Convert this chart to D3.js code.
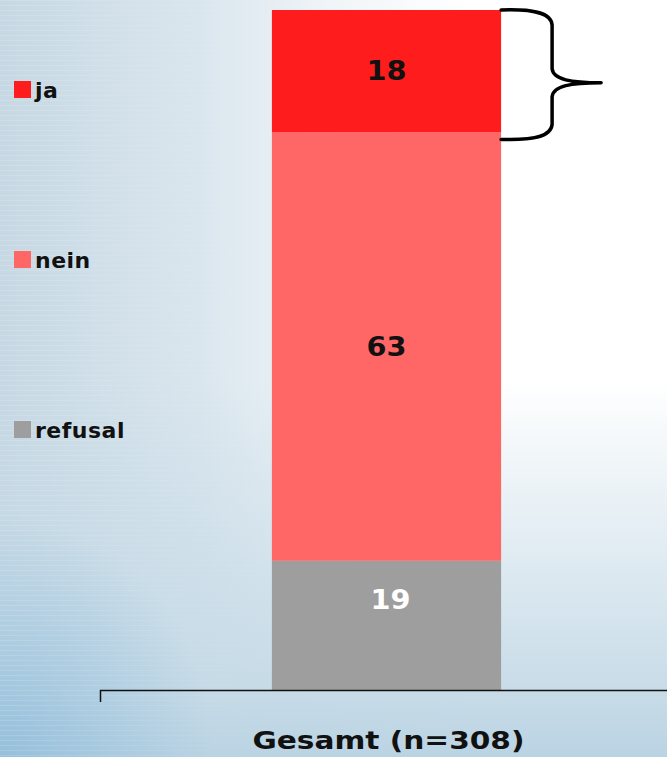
<!DOCTYPE html>
<html>
<head>
<meta charset="utf-8">
<script src="https://cdn.jsdelivr.net/npm/d3@7"></script>
<style>
  body { margin: 0; overflow: hidden; }
  text { font-family: "DejaVu Sans", Verdana, sans-serif; font-weight: bold; }
</style>
</head>
<body>
<div id="chart"></div>
<script>
var categories = ["Gesamt (n=308)"];
var seriesNames = ["ja", "nein", "refusal"];
var seriesValues = [18, 63, 19];
var seriesColors = ["#ff1c1c", "#ff6666", "#9e9e9e"];
var labelColors = ["#111", "#111", "#fff"];

var width = 667, height = 757;

var svg = d3.select("#chart").append("svg")
    .attr("width", width)
    .attr("height", height);

var defs = svg.append("defs");

// background gradients
var gh = defs.append("linearGradient").attr("id", "bgH")
    .attr("x1", 0).attr("x2", 1).attr("y1", 0).attr("y2", 0);
gh.append("stop").attr("offset", "0").attr("stop-color", "#c6d8e3");
gh.append("stop").attr("offset", "0.3").attr("stop-color", "#dae6ee");
gh.append("stop").attr("offset", "0.5").attr("stop-color", "#f0f5f8");
gh.append("stop").attr("offset", "0.7").attr("stop-color", "#ffffff");
gh.append("stop").attr("offset", "1").attr("stop-color", "#ffffff");

var gv = defs.append("linearGradient").attr("id", "bgV")
    .attr("x1", 0).attr("x2", 0).attr("y1", 0).attr("y2", 1);
gv.append("stop").attr("offset", "0.5").attr("stop-color", "#c4d9e6").attr("stop-opacity", 0);
gv.append("stop").attr("offset", "0.92").attr("stop-color", "#c4d9e6").attr("stop-opacity", 0.95);
gv.append("stop").attr("offset", "1").attr("stop-color", "#bad3e3").attr("stop-opacity", 1);

var gr = defs.append("radialGradient").attr("id", "bgR")
    .attr("cx", 0).attr("cy", 1).attr("r", 0.32);
gr.append("stop").attr("offset", "0").attr("stop-color", "#8dbbda").attr("stop-opacity", 0.8);
gr.append("stop").attr("offset", "1").attr("stop-color", "#8dbbda").attr("stop-opacity", 0);

// faint horizontal streaks on the left
var pat = defs.append("pattern").attr("id", "streaks")
    .attr("width", 8).attr("height", 5).attr("patternUnits", "userSpaceOnUse");
pat.append("rect").attr("width", 8).attr("height", 1).attr("fill", "#ffffff").attr("opacity", 0.15);

var gm = defs.append("linearGradient").attr("id", "fadeM")
    .attr("x1", 0).attr("x2", 1).attr("y1", 0).attr("y2", 0);
gm.append("stop").attr("offset", "0").attr("stop-color", "#fff");
gm.append("stop").attr("offset", "1").attr("stop-color", "#000");
defs.append("mask").attr("id", "streakMask")
    .append("rect").attr("width", 300).attr("height", height).attr("fill", "url(#fadeM)");

svg.append("rect").attr("width", width).attr("height", height).attr("fill", "url(#bgH)");
svg.append("rect").attr("width", width).attr("height", height).attr("fill", "url(#bgV)");
svg.append("rect").attr("width", width).attr("height", height).attr("fill", "url(#bgR)");
svg.append("rect").attr("width", 300).attr("height", height)
    .attr("fill", "url(#streaks)").attr("mask", "url(#streakMask)");

// scales
var x = d3.scaleBand()
    .domain(categories)
    .range([100, 673])
    .paddingInner(0.5)
    .paddingOuter(0.375);

var y = d3.scaleLinear()
    .domain([0, 100])
    .range([690, 10]);

// stack data
var row = {};
seriesNames.forEach(function(s, i) { row[s] = seriesValues[i]; });
row.cat = categories[0];
// stacked bottom-up: refusal, nein, ja
var order = seriesNames.slice().reverse();
var stack = d3.stack().keys(order)([row]);

var layers = svg.selectAll(".layer")
    .data(stack)
    .enter().append("g")
    .attr("class", "layer");

layers.selectAll("rect")
    .data(function(d) { return d.map(function(p) { return {key: d.key, p: p}; }); })
    .enter().append("rect")
    .attr("x", function(d) { return x(d.p.data.cat); })
    .attr("width", x.bandwidth())
    .attr("y", function(d) { return y(d.p[1]); })
    .attr("height", function(d) { return y(d.p[0]) - y(d.p[1]); })
    .attr("fill", function(d) { return seriesColors[seriesNames.indexOf(d.key)]; });

layers.selectAll("text")
    .data(function(d) { return d.map(function(p) { return {key: d.key, p: p}; }); })
    .enter().append("text")
    .attr("x", function(d) {
        return x(d.p.data.cat) + x.bandwidth() / 2 + (d.key === "refusal" ? 4 : 0);
    })
    .attr("y", function(d) {
        var mid = (y(d.p[0]) + y(d.p[1])) / 2;
        if (d.key === "refusal") mid -= 25;
        return mid + 9;
    })
    .attr("text-anchor", "middle")
    .attr("textLength", 40)
    .attr("lengthAdjust", "spacingAndGlyphs")
    .style("font-size", "26px")
    .attr("fill", function(d) { return labelColors[seriesNames.indexOf(d.key)]; })
    .text(function(d) { return d.p.data[d.key]; });

// axis
var axis = svg.append("g")
    .attr("transform", "translate(0," + y(0) + ")")
    .call(d3.axisBottom(x).tickSizeInner(0).tickSizeOuter(12));

axis.select(".domain").attr("stroke", "#111").attr("stroke-width", 1.5);
axis.selectAll(".tick text")
    .attr("x", 2)
    .attr("y", 59)
    .attr("dy", 0)
    .attr("fill", "#111")
    .attr("textLength", 272)
    .attr("lengthAdjust", "spacingAndGlyphs")
    .style("font-family", "'DejaVu Sans', Verdana, sans-serif")
    .style("font-weight", "bold")
    .style("font-size", "24px");

// brace over the "ja" segment
var jaTop = y(100);
var jaBot = y(100 - seriesValues[0]) + 7;
var bx = x(categories[0]) + x.bandwidth();
var mid = (jaTop + jaBot) / 2 + 8;
var brace = d3.path();
brace.moveTo(bx, jaTop);
brace.bezierCurveTo(bx + 30, jaTop - 1, bx + 50, jaTop + 2, bx + 51, jaTop + 15);
brace.lineTo(bx + 51, mid - 14);
brace.bezierCurveTo(bx + 52, mid - 3, bx + 70, mid, bx + 100, mid);
brace.moveTo(bx + 100, mid);
brace.bezierCurveTo(bx + 70, mid, bx + 52, mid + 3, bx + 51, mid + 14);
brace.lineTo(bx + 51, jaBot - 15);
brace.bezierCurveTo(bx + 50, jaBot - 2, bx + 30, jaBot + 1, bx, jaBot);
svg.append("path")
    .attr("d", brace.toString())
    .attr("fill", "none")
    .attr("stroke", "#000")
    .attr("stroke-width", 3.5)
    .attr("stroke-linecap", "round");

// legend
var legendY = [81, 251, 421];
var legend = svg.selectAll(".legend")
    .data(seriesNames)
    .enter().append("g")
    .attr("class", "legend")
    .attr("transform", function(d, i) { return "translate(14," + legendY[i] + ")"; });

legend.append("rect")
    .attr("width", 17)
    .attr("height", 17)
    .attr("fill", function(d, i) { return seriesColors[i]; });

legend.append("text")
    .attr("x", 21)
    .attr("y", 16.5)
    .style("font-size", "22px")
    .style("letter-spacing", "0.5px")
    .attr("fill", "#111")
    .text(function(d) { return d; });
</script>
</body>
</html>
